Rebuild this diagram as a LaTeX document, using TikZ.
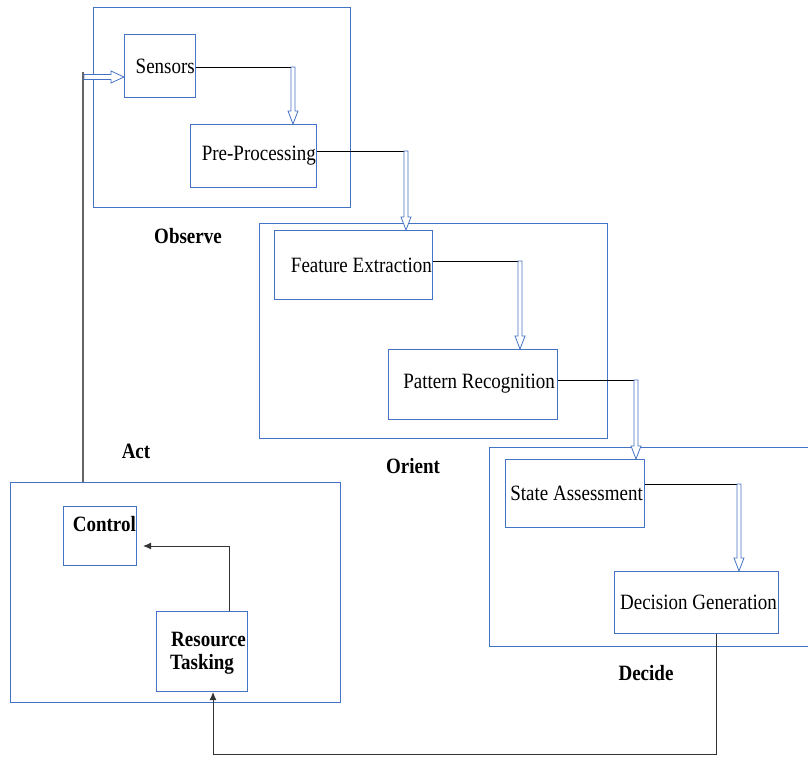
\documentclass[tikz,border=0pt]{standalone}
\usepackage{fontspec}
\setmainfont{Liberation Serif}
\usetikzlibrary{arrows.meta,calc}
\definecolor{boxblue}{HTML}{4472C4}
\newcommand{\tall}[1]{\scalebox{1}[1.15]{#1}}
% hollow double arrow pointing down: #1 start, #2 tip
\newcommand{\hdown}[2]{%
  \draw[draw=boxblue, line width=0.8pt, fill=white] let \p1=#1, \p2=#2 in
    (\x1-2pt,\y1) -- (\x1-2pt,\y2+13pt) -- (\x1-5pt,\y2+13pt) -- (\x1,\y2)
    -- (\x1+5pt,\y2+13pt) -- (\x1+2pt,\y2+13pt) -- (\x1+2pt,\y1) -- cycle;}
% hollow double arrow pointing right: #1 start, #2 tip
\newcommand{\hright}[2]{%
  \draw[draw=boxblue, line width=0.8pt, fill=white] let \p1=#1, \p2=#2 in
    (\x1,\y1+2.5pt) -- (\x2-13pt,\y1+2.5pt) -- (\x2-13pt,\y1+6pt) -- (\x2,\y1)
    -- (\x2-13pt,\y1-6pt) -- (\x2-13pt,\y1-2.5pt) -- (\x1,\y1-2.5pt) -- cycle;}
\tikzset{
  grp/.style={draw=boxblue, line width=1pt},
  blk/.style={draw=boxblue, line width=1pt, fill=white, inner sep=0pt},
  txt/.style={anchor=east, inner sep=0pt, font=\fontsize{19}{21}\selectfont},
  btxt/.style={anchor=east, inner sep=0pt, font=\bfseries\fontsize{19}{24}\selectfont},
  lbl/.style={font=\bfseries\fontsize{19}{21}\selectfont},
  link/.style={draw=black, line width=0.9pt},
  back/.style={draw=black!80, line width=1pt, -{Latex[length=8pt,width=7pt]}}
}
\begin{document}
\begin{tikzpicture}[x=1pt,y=-1pt]
\useasboundingbox (0,0) rectangle (808,760);
% group frames
\draw[grp] (93,8) rectangle (350,207);
\draw[grp] (259,223) rectangle (607,438);
\draw[grp] (489,447) -- (808,447) (489,447) -- (489,646) -- (808,646);
\draw[grp] (10,482) rectangle (340,702);
% labels
\node[lbl] (lobs) at (188,236) {\tall{Observe}};
\node[lbl] (lori) at (413,466) {\tall{Orient}};
\node[lbl] (lact) at (136,451) {\tall{Act}};
\node[lbl] (ldec) at (646,673) {\tall{Decide}};
% blocks
\node[blk, minimum width=71pt, minimum height=63pt, anchor=north west] (sens) at (124,34) {};
\node[txt] (senst) at (195,66) {\tall{Sensors}};
\node[blk, minimum width=126pt, minimum height=63pt, anchor=north west] (pre) at (190,124) {};
\node[txt] (pret) at (316,156) {\tall{Pre-Processing}};
\node[blk, minimum width=158pt, minimum height=69pt, anchor=north west] (feat) at (274,230) {};
\node[txt] (featt) at (432,265) {\tall{Feature Extraction}};
\node[blk, minimum width=169pt, minimum height=70pt, anchor=north west] (patt) at (388,349) {};
\node[txt] (pattt) at (555,384) {\tall{Pattern Recognition}};
\node[blk, minimum width=139pt, minimum height=68pt, anchor=north west] (state) at (505,459) {};
\node[txt] (statet) at (643,493) {\tall{State Assessment}};
\node[blk, minimum width=164pt, minimum height=62pt, anchor=north west] (dec) at (614,571) {};
\node[txt] (dect) at (777,602) {\tall{Decision Generation}};
\node[blk, minimum width=73pt, minimum height=59pt, anchor=north west] (ctrl) at (63,506) {};
\node[btxt] (ctrlt) at (136,524) {\tall{Control}};
\node[blk, minimum width=91pt, minimum height=80pt, anchor=north west] (res) at (156,611) {};
\node[btxt] (rest1) at (246,639) {\tall{Resource}};
\node[btxt, anchor=west] (rest2) at (170,664) {\tall{Tasking}};
% forward links
\coordinate (k1) at (293,67);
\draw[link] (sens.east |- k1) -- (k1);
\hdown{(k1)}{(k1 |- pre.north)}
\coordinate (k2) at (406,151);
\draw[link] (pre.east |- k2) -- (k2);
\hdown{(k2)}{(k2 |- feat.north)}
\coordinate (k3) at (520,261);
\draw[link] (feat.east |- k3) -- (k3);
\hdown{(k3)}{(k3 |- patt.north)}
\coordinate (k4) at (636,380);
\draw[link] (patt.east |- k4) -- (k4);
\hdown{(k4)}{(k4 |- state.north)}
\coordinate (k5) at (739,484);
\draw[link] (state.east |- k5) -- (k5);
\hdown{(k5)}{(k5 |- dec.north)}
% decide -> act
\coordinate (d1) at (716,754);
\coordinate (d2) at (213,754);
\draw[back] (dec.south -| d1) -- (d1) -- (d2) -- (d2 |- res.south);
% resource tasking -> control
\coordinate (r1) at (229,546);
\coordinate (r2) at (143,546);
\draw[back] (res.north -| r1) -- (r1) -- (r2);
% act -> observe
\coordinate (a1) at (83,482);
\coordinate (a2) at (83,72);
\coordinate (a3) at (84,77);
\draw[draw=black!60, line width=1.3pt] (a1) -- (a2);
\hright{(a3)}{(a3 -| sens.west)}
\end{tikzpicture}
\end{document}
